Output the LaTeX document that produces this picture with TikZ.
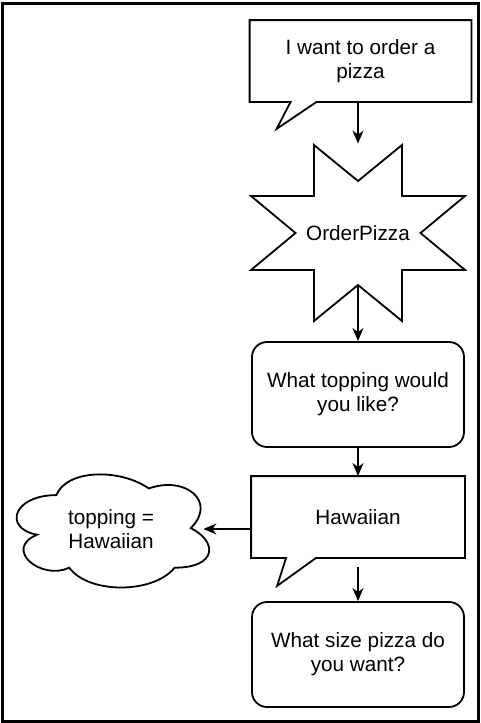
\documentclass[tikz,border=0pt]{standalone}
\usepackage{fontspec}
\setmainfont{Liberation Sans}
\usepackage{tikz}
\usetikzlibrary{arrows.meta}

\begin{document}
\begin{tikzpicture}
	[x=1pt, y=-1pt, line width=1.8pt, >={Stealth[length=13pt, width=11pt, inset=4pt]},
	 main/.style = {minimum width=212pt, minimum height=80pt, align=center, font=\fontsize{20.7}{24}\selectfont},
	 ask/.style = {main, draw, rounded corners=15pt, minimum height=105pt}]
	\useasboundingbox (0,0) rectangle (481,723);
	\draw[line width=3pt] (2.5,3) rectangle (478.5,721.3);
	\node[main, minimum width=220pt] (1) at (360.5,61) {I want to order a\\pizza};
	\node[main, minimum width=213pt, minimum height=177pt] (2) at (358,233) {OrderPizza};
	\node[ask] (3) [below of=2, node distance=161.5pt] {What topping would\\you like?};
	\node[main] (4) [below of=3, node distance=122.5pt] {Hawaiian};
	\node[ask] (5) [below of=4, node distance=137.5pt] {What size pizza do\\you want?};
	\node[main, minimum width=215pt, minimum height=132pt] (6) at (111,529) {topping =\\Hawaiian};
	% speech bubbles
	\draw ([xshift=41pt]1.south west) -- ([xshift=27pt, yshift=-27pt]1.south west) -- ([xshift=67pt]1.south west) -- (1.south east) -- (1.north east) -- (1.north west) -- (1.south west) -- cycle;
	\draw ([xshift=35pt]4.south west) -- ([xshift=26pt, yshift=-28pt]4.south west) -- ([xshift=65pt]4.south west) -- (4.south east) -- (4.north east) -- (4.north west) -- (4.south west) -- cycle;
	% burst
	\draw[shift={(2.center)}] (-44,-88) -- (0,-52) -- (44,-88) -- (44,-37) -- (107,-37) -- (62.5,0) -- (107,37) -- (44,37) -- (44,88) -- (0,52) coordinate (2s) -- (-44,88) -- (-44,37) -- (-107,37) -- (-62.5,0) -- (-107,-37) -- (-44,-37) -- cycle;
	% cloud
	\draw[shift={(6.north west)}, x=215pt, y=-132pt] (0.25,0.25) .. controls (0.05,0.25) and (0,0.5) .. (0.16,0.55) .. controls (0,0.66) and (0.18,0.9) .. (0.31,0.8) .. controls (0.4,1) and (0.7,1) .. (0.8,0.8) .. controls (1,0.8) and (1,0.6) .. (0.875,0.5) .. controls (1,0.3) and (0.85,0.1) .. (0.68,0.2) .. controls (0.55,0.05) and (0.3,0.05) .. (0.25,0.25) -- cycle;
	\draw[->] (1.south -| 2.north) -- (2.north);
	\draw[->] (2s) -- (3);
	\draw[->] (3) -- (4);
	\draw[->] ([yshift=-9pt]4.south) -- (5);
	\draw[->] (4.west |- 6) -- ([xshift=-16pt]6.east);
\end{tikzpicture}
\end{document}
